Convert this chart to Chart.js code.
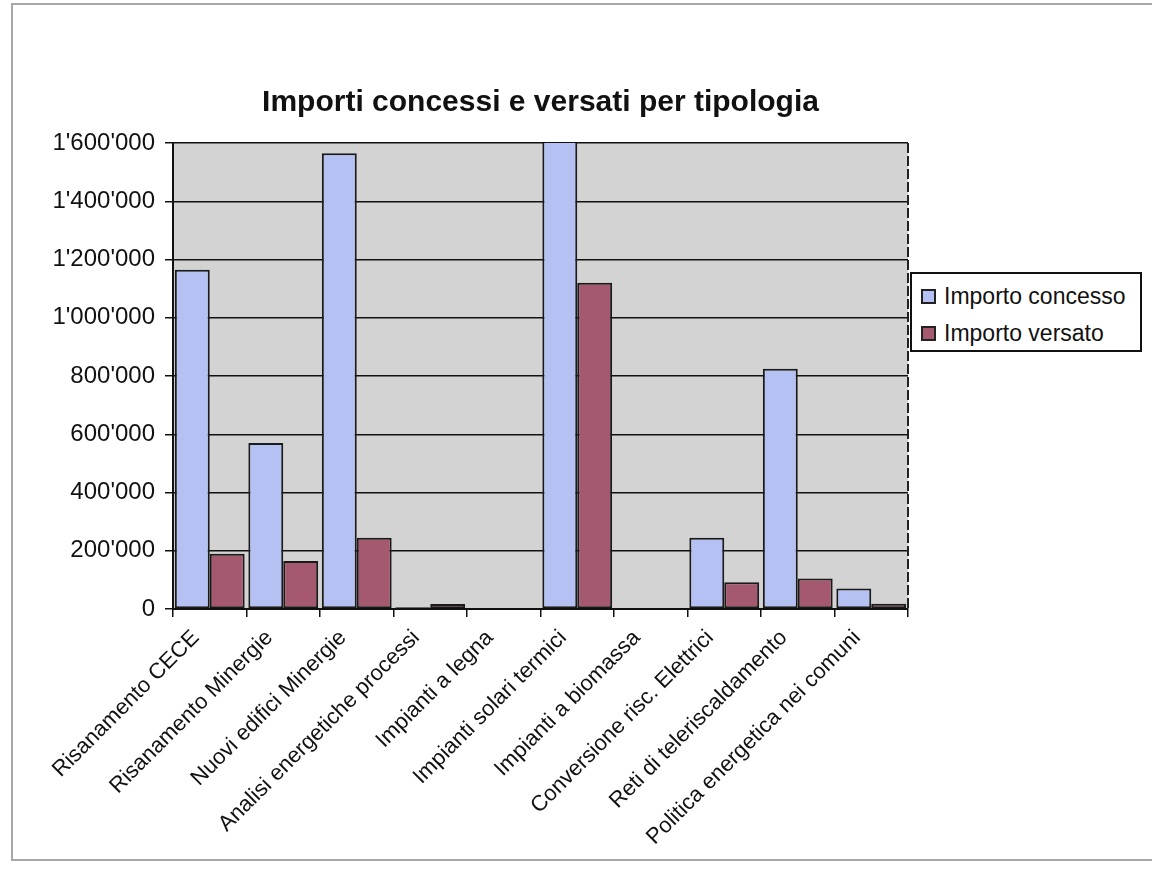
<!DOCTYPE html>
<html lang="it">
<head>
<meta charset="utf-8">
<title>Importi concessi e versati per tipologia</title>
<script src="https://cdn.jsdelivr.net/npm/chart.js@4.4.1/dist/chart.umd.min.js"></script>
<style>
  html, body { margin: 0; padding: 0; background: #fff; }
  body { width: 1152px; height: 879px; position: relative; overflow: hidden; font-family: "Liberation Sans", Arial, sans-serif; }
  .frame { position: absolute; left: 11px; top: 3px; width: 1160px; height: 858px; border: 2px solid #a8a8a8; box-sizing: border-box; }
  #chartTitle { position: absolute; left: 173px; width: 735px; top: 84px; text-align: center; font-weight: bold; font-size: 30px; color: #111; white-space: nowrap; }
  #chartWrap { position: absolute; left: 0; top: 0; width: 1152px; height: 879px; }
  #legend { position: absolute; left: 910px; top: 272px; width: 232px; height: 80px; border: 2px solid #111; background: #fff; box-sizing: border-box; padding: 4px 0 0 9px; }
  #legend .item { display: flex; align-items: center; height: 37px; font-size: 23px; color: #111; white-space: nowrap; }
  #legend .box { width: 11px; height: 11px; border: 2px solid #222; margin-right: 8px; flex: none; }
</style>
</head>
<body>
<div class="frame"></div>
<div id="chartWrap"><canvas id="chart" width="1152" height="879"></canvas></div>
<div id="chartTitle">Importi concessi e versati per tipologia</div>
<div id="legend"></div>
<script>
const categories = [
    'Risanamento CECE',
    'Risanamento Minergie',
    'Nuovi edifici Minergie',
    'Analisi energetiche processi',
    'Impianti a legna',
    'Impianti solari termici',
    'Impianti a biomassa',
    'Conversione risc. Elettrici',
    'Reti di teleriscaldamento',
    'Politica energetica nei comuni'
];
const importoConcesso = [1165000, 570000, 1565000, 6000, 0, 1720000, 0, 245000, 825000, 70000];
const importoVersato = [190000, 165000, 245000, 17000, 0, 1120000, 0, 92000, 105000, 18000];
const yMax = 1600000;
const yStep = 200000;

const FONT = '"Liberation Sans", Arial, sans-serif';
Chart.defaults.font.family = FONT;
Chart.defaults.color = '#111';

// 1'600'000 style thousands separator
function formatSwiss(value) {
    return String(value).replace(/\B(?=(\d{3})+(?!\d))/g, "'");
}

// grey plot background and the right edge of the plot frame
const plotFrame = {
    id: 'plotFrame',
    beforeDraw(chart) {
        const { ctx, chartArea: a } = chart;
        ctx.save();
        ctx.fillStyle = '#d3d3d3';
        ctx.fillRect(a.left, a.top, a.right - a.left, a.bottom - a.top);
        ctx.restore();
    },
    beforeDatasetsDraw(chart) {
        const { ctx, chartArea: a } = chart;
        ctx.save();
        ctx.strokeStyle = '#222';
        ctx.lineWidth = 2;
        ctx.setLineDash([10, 3]);
        ctx.beginPath();
        ctx.moveTo(a.right, a.top);
        ctx.lineTo(a.right, a.bottom);
        ctx.stroke();
        ctx.restore();
    }
};

const chart = new Chart(document.getElementById('chart'), {
    type: 'bar',
    data: {
        labels: categories,
        datasets: [
            {
                label: 'Importo concesso',
                data: importoConcesso,
                backgroundColor: '#b5c1f2',
                borderColor: '#1a1a1a',
                borderWidth: 2,
                borderSkipped: false
            },
            {
                label: 'Importo versato',
                data: importoVersato,
                backgroundColor: '#a4596f',
                borderColor: '#1a1a1a',
                borderWidth: 2,
                borderSkipped: false
            }
        ]
    },
    options: {
        responsive: false,
        animation: false,
        devicePixelRatio: 1,
        categoryPercentage: 0.95,
        barPercentage: 1.0,
        layout: {
            padding: { top: 143, left: 0, right: 244, bottom: 0 }
        },
        plugins: {
            legend: { display: false },
            title: { display: false },
            tooltip: { enabled: false }
        },
        scales: {
            x: {
                afterFit(scale) { scale.height = 270; },
                grid: {
                    offset: true,
                    drawOnChartArea: false,
                    color: '#111',
                    lineWidth: 1.5,
                    tickLength: 8
                },
                border: { color: '#111', width: 2 },
                ticks: {
                    autoSkip: false,
                    minRotation: 45,
                    maxRotation: 45,
                    padding: 8,
                    labelOffset: -14,
                    color: '#111',
                    font: { size: 22 }
                }
            },
            y: {
                min: 0,
                max: yMax,
                afterFit(scale) { scale.width = 173; },
                grid: {
                    color: '#111',
                    lineWidth: 1.5,
                    tickLength: 8
                },
                border: { color: '#111', width: 2 },
                ticks: {
                    stepSize: yStep,
                    padding: 10,
                    color: '#111',
                    font: { size: 24 },
                    callback: value => formatSwiss(value)
                }
            }
        }
    },
    plugins: [plotFrame]
});

// legend built from the chart's own datasets
const legendEl = document.getElementById('legend');
chart.data.datasets.forEach(ds => {
    const item = document.createElement('div');
    item.className = 'item';
    const box = document.createElement('span');
    box.className = 'box';
    box.style.background = ds.backgroundColor;
    item.appendChild(box);
    item.appendChild(document.createTextNode(ds.label));
    legendEl.appendChild(item);
});
</script>
</body>
</html>
